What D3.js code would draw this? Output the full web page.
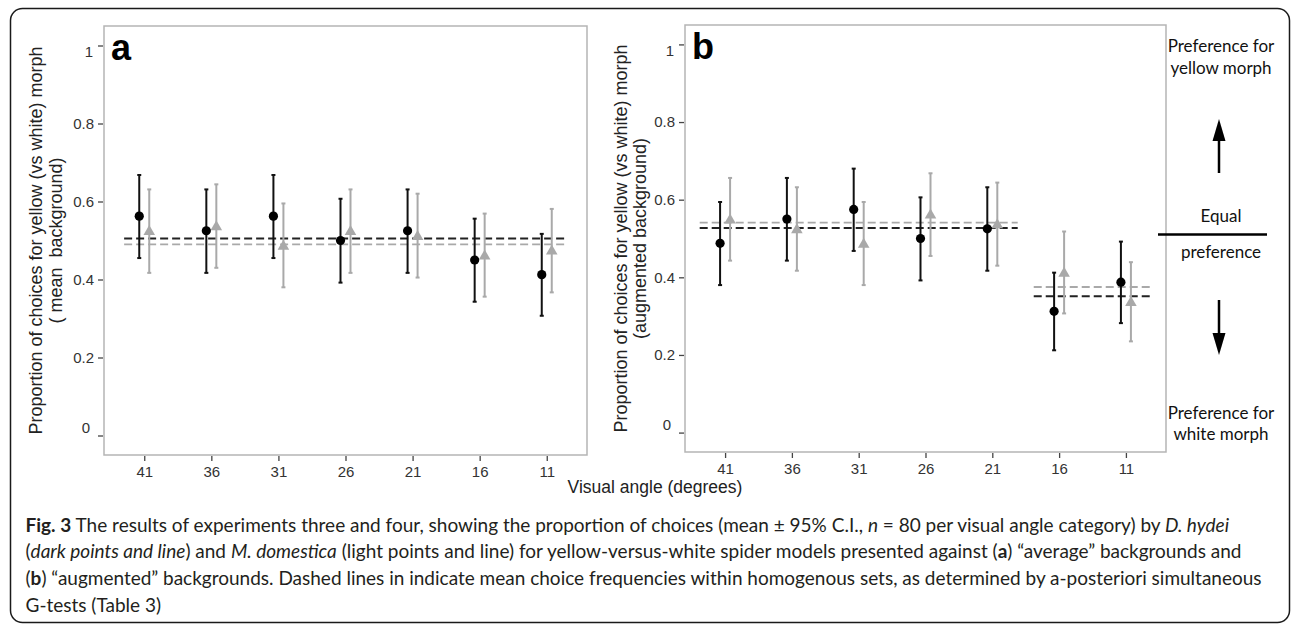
<!DOCTYPE html>
<html>
<head>
<meta charset="utf-8">
<script src="https://cdn.jsdelivr.net/npm/d3@7"></script>
<style>
  body { margin: 0; background: #fff; }
  svg { display: block; }
  .tick text { font-family: "Liberation Sans", Arial, sans-serif; font-size: 15px; }
</style>
</head>
<body>
<svg id="chart" width="1292" height="626"></svg>
<script>
// visual angle categories (degrees)
const angles = ["41", "36", "31", "26", "21", "16", "11"];
const yTicks = [0, 0.2, 0.4, 0.6, 0.8, 1];

// panel a - mean backgrounds
const aDarkMean = [0.5625, 0.525, 0.5625, 0.5, 0.525, 0.45, 0.4125];
const aDarkLo   = [0.455, 0.417, 0.455, 0.392, 0.417, 0.343, 0.307];
const aDarkHi   = [0.668, 0.631, 0.668, 0.607, 0.631, 0.556, 0.517];
const aLightMean = [0.525, 0.5375, 0.4875, 0.525, 0.5125, 0.4625, 0.475];
const aLightLo   = [0.417, 0.43, 0.38, 0.417, 0.405, 0.356, 0.367];
const aLightHi   = [0.631, 0.644, 0.595, 0.631, 0.62, 0.569, 0.581];

// panel b - augmented backgrounds
const bDarkMean = [0.4875, 0.55, 0.575, 0.5, 0.525, 0.3125, 0.3875];
const bDarkLo   = [0.38, 0.443, 0.468, 0.392, 0.417, 0.212, 0.282];
const bDarkHi   = [0.594, 0.656, 0.68, 0.606, 0.632, 0.412, 0.492];
const bLightMean = [0.55, 0.525, 0.4875, 0.5625, 0.5375, 0.4125, 0.3375];
const bLightLo   = [0.443, 0.417, 0.38, 0.455, 0.43, 0.307, 0.235];
const bLightHi   = [0.656, 0.632, 0.594, 0.668, 0.644, 0.518, 0.439];

// homogenous set means (dashed lines): [from, to, value]
const aSetsDark  = [["41", "11", 0.505]];
const aSetsLight = [["41", "11", 0.49]];
const bSetsDark  = [["41", "21", 0.527], ["16", "11", 0.351]];
const bSetsLight = [["41", "21", 0.541], ["16", "11", 0.375]];

const DARK = "#000";
const LIGHT = "#a9a9a9";
const svg = d3.select("#chart");

// outer frame
svg.append("rect")
  .attr("x", 10.5).attr("y", 8.5)
  .attr("width", 1279).attr("height", 614)
  .attr("rx", 12)
  .attr("fill", "none").attr("stroke", "#1a1a1a").attr("stroke-width", 1.5);

const toRows = (mean, lo, hi) => angles.map((a, i) => ({angle: a, mean: mean[i], lo: lo[i], hi: hi[i]}));

function drawPanel(opt) {
  const x = d3.scalePoint().domain(angles).range([opt.left, opt.right]).padding(0.6);
  const y = d3.scaleLinear().domain([-0.05, 1.05]).range([opt.bottom, opt.top]);
  const g = svg.append("g");

  g.append("rect")
    .attr("x", opt.left).attr("y", opt.top)
    .attr("width", opt.right - opt.left).attr("height", opt.bottom - opt.top)
    .attr("fill", "none").attr("stroke", "#b5b5b5").attr("stroke-width", 1.5);

  const yAxis = g.append("g")
    .attr("transform", `translate(${opt.left - 1},0)`)
    .call(d3.axisLeft(y).tickValues(yTicks).tickSize(5).tickPadding(4).tickFormat(d3.format("~g")));
  yAxis.select(".domain").remove();
  yAxis.selectAll(".tick line").attr("stroke", "#444").attr("stroke-width", 1.3);
  yAxis.selectAll(".tick text").style("font-size", "15px").attr("fill", "#333")
    .attr("dx", d => d === 1 ? -1 : d === 0 ? -4 : 0)
    .attr("dy", d => d === 1 ? "0.75em" : d === 0 ? "-0.2em" : "0.32em");

  const xAxis = g.append("g")
    .attr("transform", `translate(0,${opt.bottom + 1})`)
    .call(d3.axisBottom(x).tickSize(5).tickPadding(5));
  xAxis.select(".domain").remove();
  xAxis.selectAll(".tick line").attr("stroke", "#444").attr("stroke-width", 1.3);
  xAxis.selectAll(".tick text").style("font-size", "15px").attr("fill", "#333");

  // dashed set lines
  const pad = x.step() * opt.linePad;
  const dashed = (sets, color, width) => {
    g.selectAll(null).data(sets).enter().append("line")
      .attr("x1", d => x(d[0]) - pad)
      .attr("x2", d => x(d[1]) + pad)
      .attr("y1", d => y(d[2])).attr("y2", d => y(d[2]))
      .attr("stroke", color).attr("stroke-width", width)
      .attr("stroke-dasharray", "8,4");
  };
  dashed(opt.setsLight, LIGHT, 1.8);
  dashed(opt.setsDark, "#222", 2);

  const dodge = 5;
  const errBars = (rows, dx, color) => {
    const eg = g.append("g").attr("stroke", color).attr("stroke-width", 2);
    eg.selectAll(null).data(rows).enter().append("line")
      .attr("x1", d => x(d.angle) + dx).attr("x2", d => x(d.angle) + dx)
      .attr("y1", d => y(d.lo)).attr("y2", d => y(d.hi));
    ["lo", "hi"].forEach(k => {
      eg.selectAll(null).data(rows).enter().append("line")
        .attr("x1", d => x(d.angle) + dx - 2).attr("x2", d => x(d.angle) + dx + 2)
        .attr("y1", d => y(d[k])).attr("y2", d => y(d[k]));
    });
  };
  errBars(opt.light, dodge, LIGHT);
  errBars(opt.dark, -dodge, "#111");

  g.selectAll(null).data(opt.light).enter().append("path")
    .attr("d", d3.symbol(d3.symbolTriangle, 58))
    .attr("transform", d => `translate(${x(d.angle) + dodge},${y(d.mean) + 1})`)
    .attr("fill", LIGHT);

  g.selectAll(null).data(opt.dark).enter().append("circle")
    .attr("cx", d => x(d.angle) - dodge).attr("cy", d => y(d.mean))
    .attr("r", 4.6).attr("fill", "#000");

  // panel letter
  g.append("text")
    .attr("x", opt.left + 7).attr("y", opt.top + 34)
    .attr("font-family", "Liberation Sans, Arial, sans-serif")
    .attr("font-weight", "bold").attr("font-size", 36)
    .text(opt.letter);

  // y axis title (two lines)
  const cy = (opt.top + opt.bottom) / 2;
  opt.yTitle.forEach((t, i) => {
    g.append("text")
      .attr("transform", `translate(${opt.titleX[i]},${cy}) rotate(-90)`)
      .attr("text-anchor", "middle").attr("dy", "0.35em")
      .attr("font-family", "Liberation Sans, Arial, sans-serif")
      .attr("font-size", 18).attr("fill", "#222")
      .attr("xml:space", "preserve")
      .text(t);
  });
}

drawPanel({
  left: 104, right: 587, top: 26, bottom: 455, letter: "a", linePad: 0.3,
  dark: toRows(aDarkMean, aDarkLo, aDarkHi), light: toRows(aLightMean, aLightLo, aLightHi),
  setsDark: aSetsDark, setsLight: aSetsLight,
  yTitle: ["Proportion of choices for yellow (vs white) morph", "( mean  background)"],
  titleX: [36, 56]
});

drawPanel({
  left: 685, right: 1166, top: 25, bottom: 452, letter: "b", linePad: 0.38,
  dark: toRows(bDarkMean, bDarkLo, bDarkHi), light: toRows(bLightMean, bLightLo, bLightHi),
  setsDark: bSetsDark, setsLight: bSetsLight,
  yTitle: ["Proportion of choices for yellow (vs white) morph", "(augmented background)"],
  titleX: [621, 640]
});

// shared x title
svg.append("text")
  .attr("x", 655).attr("y", 493)
  .attr("text-anchor", "middle")
  .attr("font-family", "Liberation Sans, Arial, sans-serif")
  .attr("font-size", 17.5).attr("fill", "#222")
  .text("Visual angle (degrees)");

// right-hand annotation
const note = svg.append("g")
  .attr("font-family", "Lato, Carlito, sans-serif")
  .attr("font-size", 17).attr("fill", "#111")
  .attr("text-anchor", "middle");
const noteX = 1221;
[["Preference for", 52], ["yellow morph", 74], ["Equal", 222], ["preference", 258],
 ["Preference for", 419], ["white morph", 440]].forEach(([t, yy]) => {
  note.append("text").attr("x", noteX).attr("y", yy).text(t);
});
note.append("line").attr("x1", 1158).attr("x2", 1267).attr("y1", 234.5).attr("y2", 234.5)
  .attr("stroke", "#000").attr("stroke-width", 2.5);
// arrows
note.append("line").attr("x1", 1219).attr("x2", 1219).attr("y1", 173).attr("y2", 136)
  .attr("stroke", "#000").attr("stroke-width", 2.5);
note.append("path").attr("d", "M1219,119 L1225.5,141 L1212.5,141 Z").attr("fill", "#000");
note.append("line").attr("x1", 1219).attr("x2", 1219).attr("y1", 300).attr("y2", 338)
  .attr("stroke", "#000").attr("stroke-width", 2.5);
note.append("path").attr("d", "M1219,355 L1225.5,333 L1212.5,333 Z").attr("fill", "#000");

// caption
const captionLines = [
  [["b", "Fig. 3"], ["", " The results of experiments three and four, showing the proportion of choices (mean ± 95% C.I., "], ["i", "n"], ["", " = 80 per visual angle category) by "], ["i", "D. hydei"]],
  [["", "("], ["i", "dark points and line"], ["", ") and "], ["i", "M. domestica"], ["", " (light points and line) for yellow-versus-white spider models presented against ("], ["b", "a"], ["", ") “average” backgrounds and"]],
  [["", "("], ["b", "b"], ["", ") “augmented” backgrounds. Dashed lines in indicate mean choice frequencies within homogenous sets, as determined by a-posteriori simultaneous"]],
  [["", "G-tests (Table 3)"]]
];
const cap = svg.append("g")
  .attr("font-family", "Lato, 'Open Sans', sans-serif")
  .attr("font-size", 18).attr("fill", "#231f20");
const capTexts = captionLines.map((parts, i) => {
  const t = cap.append("text").attr("x", 25.5).attr("y", 531.5 + i * 26.7).attr("xml:space", "preserve");
  parts.forEach(([s, txt]) => {
    const ts = t.append("tspan").text(txt);
    if (s === "b") ts.attr("font-weight", "bold");
    if (s === "i") ts.attr("font-style", "italic");
  });
  return t;
});
// fit font size so the third line spans its width in the reference
const w3 = capTexts[2].node().getComputedTextLength();
cap.attr("font-size", 18 * 1237 / w3);
</script>
</body>
</html>
